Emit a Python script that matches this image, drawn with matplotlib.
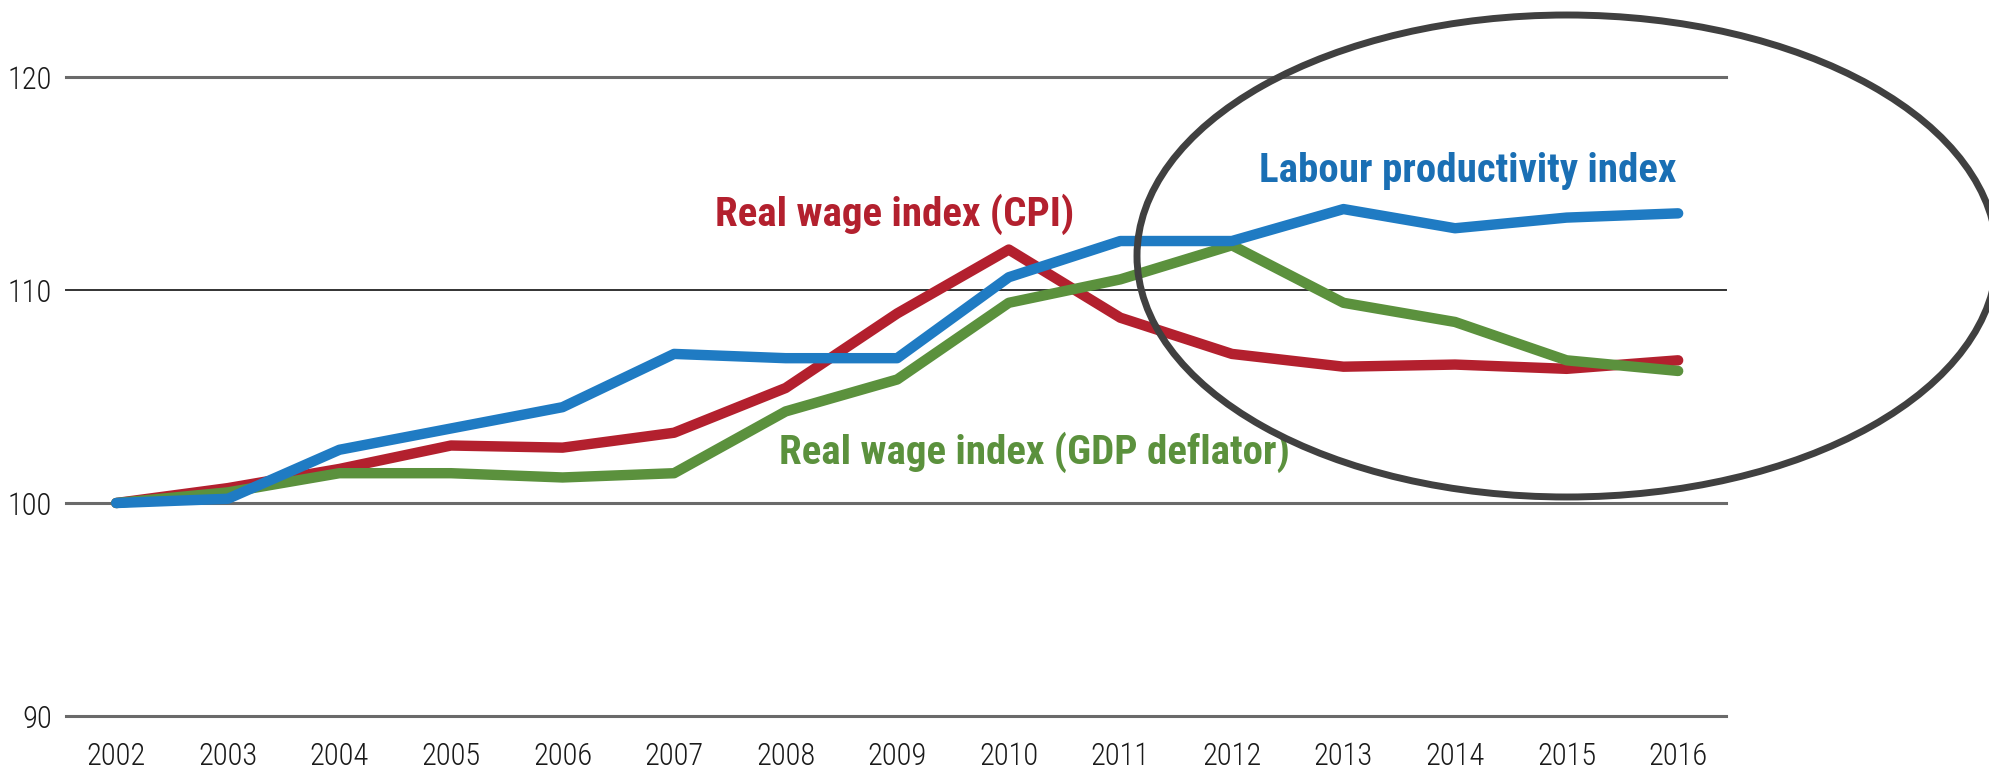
import matplotlib.pyplot as plt
from matplotlib.patches import Ellipse

# Index series, 2002 = 100
years = list(range(2002, 2017))
productivity = [100.0, 100.2, 102.5, 103.5, 104.5, 107.0, 106.8, 106.8,
                110.6, 112.3, 112.3, 113.8, 112.9, 113.4, 113.6]
wage_cpi = [100.0, 100.7, 101.6, 102.7, 102.6, 103.3, 105.4, 108.9,
            111.9, 108.7, 107.0, 106.4, 106.5, 106.3, 106.7]
wage_gdp = [100.0, 100.5, 101.4, 101.4, 101.2, 101.4, 104.3, 105.8,
            109.4, 110.5, 112.1, 109.4, 108.5, 106.7, 106.2]
y_ticks = [90, 100, 110, 120]

BLUE = "#1f7bc3"
RED = "#b3202e"
GREEN = "#5b913d"

TICK_FONT = ["Roboto Condensed", "Liberation Sans Narrow", "Lato", "DejaVu Sans"]
LABEL_FONT = ["Roboto Condensed", "Liberation Sans Narrow", "Open Sans Condensed",
              "Roboto", "DejaVu Sans"]

fig = plt.figure(figsize=(19.9, 7.74), dpi=100)
ax = fig.add_axes([0.0332, 0.0749, 0.8342, 0.8256])

for t in y_ticks:
    if t == 110:
        ax.axhline(t, color="#333333", lw=1.4, zorder=1, clip_on=False)
    else:
        ax.axhline(t, color="#6a6a6a", lw=2.2, zorder=1, clip_on=False)

ax.plot(years, wage_gdp, color=GREEN, lw=7.5, solid_capstyle="round",
        solid_joinstyle="round", zorder=3)
ax.plot(years, productivity, color=BLUE, lw=7.5, solid_capstyle="round",
        solid_joinstyle="round", zorder=4)
ax.plot(years, wage_cpi, color=RED, lw=7.5, solid_capstyle="round",
        solid_joinstyle="round", zorder=2)

ax.set_xlim(2001.55, 2016.43)
ax.set_ylim(90, 120)
ax.set_xticks(years)
ax.set_yticks(y_ticks)
ax.tick_params(length=0, labelsize=22, colors="#1a1a1a")
ax.tick_params(axis="x", pad=19)
ax.tick_params(axis="y", pad=10)
for lab in ax.get_xticklabels() + ax.get_yticklabels():
    lab.set_family(TICK_FONT)
    lab.set_stretch("condensed")
    lab.set_weight("light")
for s in ax.spines.values():
    s.set_visible(False)

# series labels
label_kw = dict(fontsize=29.5, fontweight="bold", family=LABEL_FONT,
                fontstretch="condensed", ha="left", va="center")
ax.text(2012.24, 115.6, "Labour productivity index", color="#1a6fb4", **label_kw)
ax.text(2007.37, 113.55, "Real wage index (CPI)", color=RED, **label_kw)
ax.text(2007.94, 102.4, "Real wage index (GDP deflator)", color=GREEN, **label_kw)

# highlight ring around the post-2012 period
ring = Ellipse((1567 / 1990, 1 - 256 / 774), 860 / 1990, 482 / 774,
               transform=fig.transFigure, fill=False, edgecolor="#404040",
               lw=5, zorder=10)
fig.patches.append(ring)

fig.savefig("out.png", dpi=100, facecolor="white")
